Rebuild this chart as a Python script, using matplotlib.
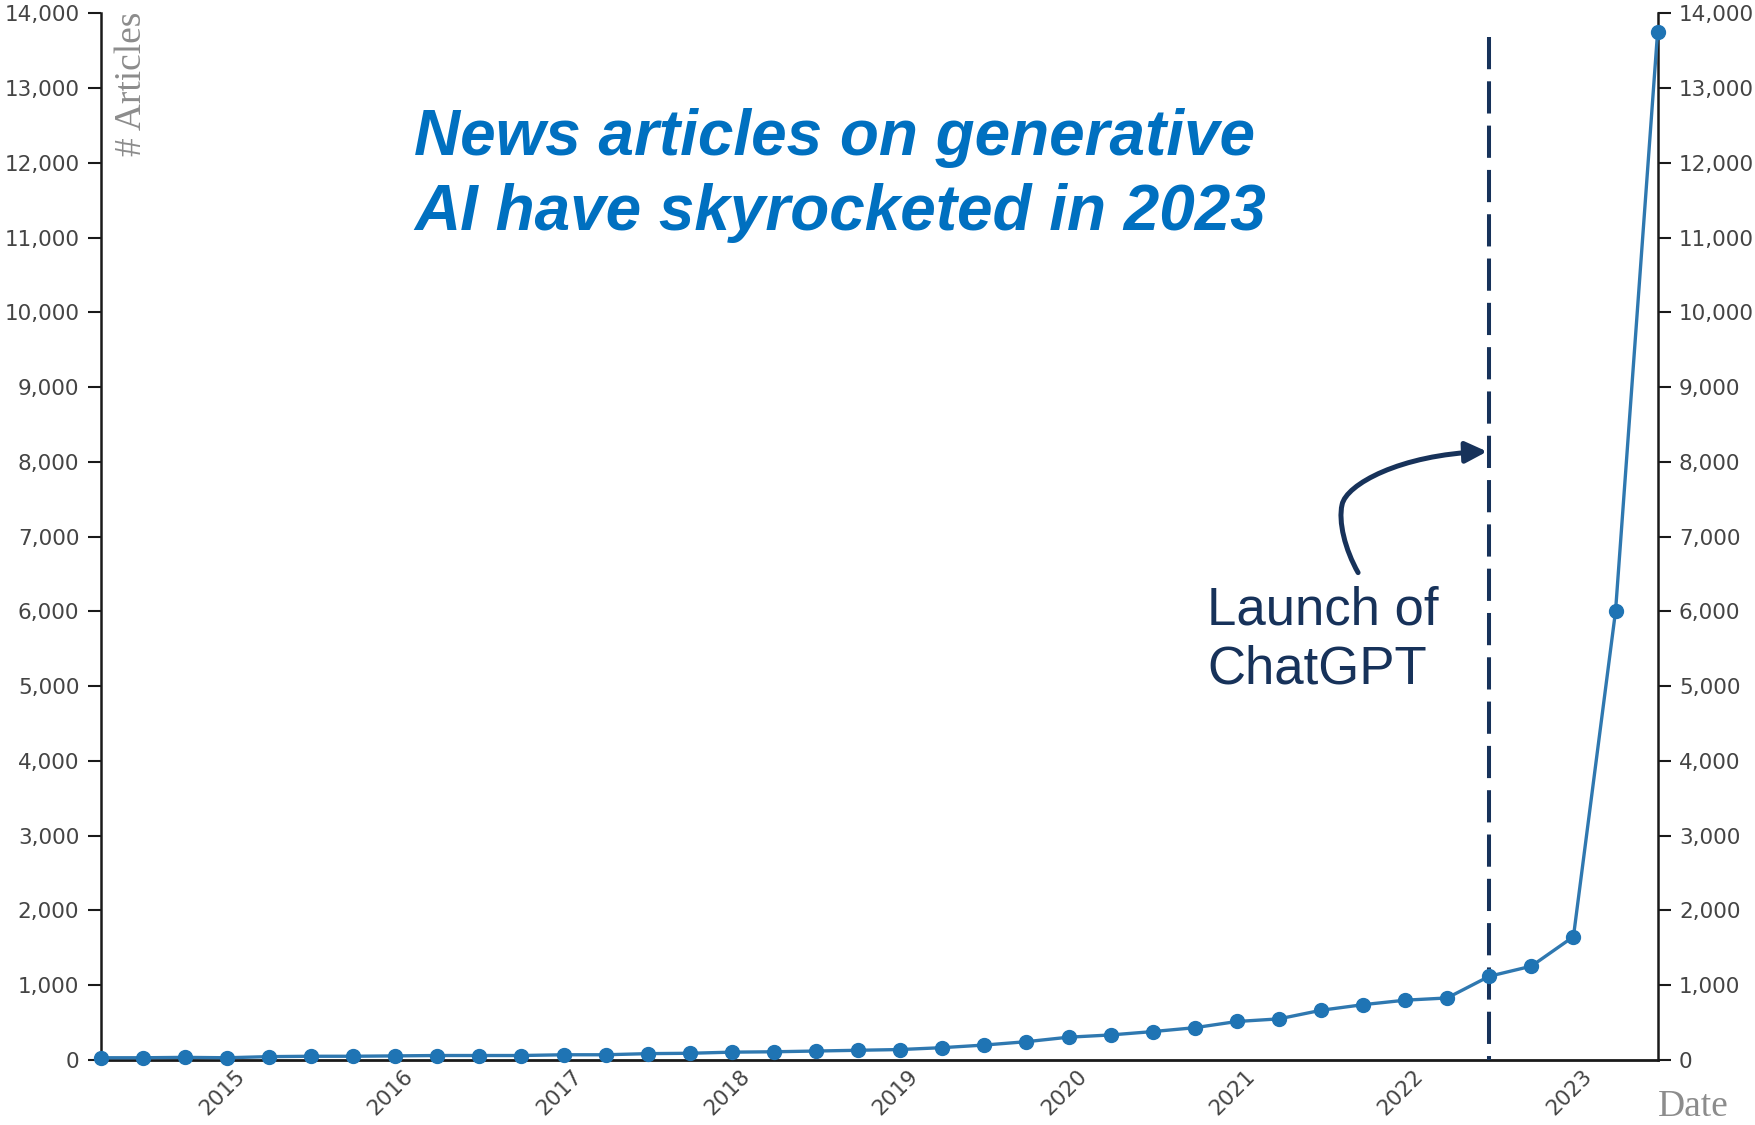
import matplotlib
matplotlib.use("Agg")
import matplotlib.pyplot as plt
import matplotlib.transforms as mtransforms
from matplotlib.path import Path
from matplotlib.patches import FancyArrowPatch
from matplotlib.ticker import FuncFormatter, MultipleLocator

# ---------------- data (quarterly article counts) ----------------
quarter_years = [2014.25 + 0.25 * i for i in range(38)]
articles = [30, 30, 35, 30, 45, 50, 50, 55, 60, 60, 60, 70,
            70, 85, 90, 105, 110, 120, 130, 140, 165, 200, 245, 305,
            335, 380, 432, 515, 550, 665, 740, 800, 830, 1120, 1255, 1650,
            6000, 13750]
year_ticks = [2015, 2016, 2017, 2018, 2019, 2020, 2021, 2022, 2023]
year_labels = [str(y) for y in year_ticks]
y_ticks = list(range(0, 14001, 1000))
launch_x = 2022.5          # where the "Launch of ChatGPT" marker is drawn
launch_top = 13680

title = "News articles on generative\nAI have skyrocketed in 2023"
launch_text = "Launch of\nChatGPT"

NAVY = "#17325a"
BLUE_T = "#0070c0"

fig = plt.figure(figsize=(17.55, 11.25), dpi=100)
ax = fig.add_axes([0.05738, 0.05778, 0.88712, 0.93031])

ax.plot(quarter_years, articles, color="#2f78b0", lw=2.4, marker="o",
        markersize=10, markerfacecolor="#1f74b4", markeredgecolor="#1f74b4",
        clip_on=False, zorder=5)

ax.set_xlim(quarter_years[0], quarter_years[-1])
ax.set_ylim(0, 14000)

# spines
ax.spines["top"].set_visible(False)
for s in ["left", "right", "bottom"]:
    ax.spines[s].set_color("#1a1a1a")
    ax.spines[s].set_linewidth(1.8)
ax.spines["bottom"].set_linewidth(2.0)

# y ticks both sides
ax.set_yticks(y_ticks)
ax.yaxis.set_major_formatter(FuncFormatter(lambda v, p: f"{v:,.0f}"))
ax.tick_params(axis="y", which="both", left=True, right=True,
               labelleft=True, labelright=True, direction="out",
               length=9.4, width=1.5, color="#1a1a1a", pad=6,
               labelsize=15.5, labelcolor="#444444")
for lab in ax.get_yticklabels():
    lab.set_family("DejaVu Sans")

# x ticks
ax.set_xticks(year_ticks)
ax.set_xticklabels(year_labels)
ax.tick_params(axis="x", length=0, pad=4, labelsize=15.5, labelcolor="#444444")
offset = mtransforms.ScaledTranslation(0.08, 0, fig.dpi_scale_trans)
for lab in ax.get_xticklabels():
    lab.set_rotation(45)
    lab.set_ha("right")
    lab.set_va("top")
    lab.set_rotation_mode("anchor")
    lab.set_family("DejaVu Sans")
    lab.set_transform(lab.get_transform() + offset)

# axis titles
fig.text(132 / 1755, 1 - 12 / 1125, "# Articles", rotation=90, ha="center",
         va="top", family="Liberation Serif", fontsize=27, color="#8c8c8c")
fig.text(1658 / 1755, 1 / 1125, "Date", ha="left", va="bottom",
         family="Liberation Serif", fontsize=27, color="#8c8c8c")

# title
fig.text(414 / 1755, 1 - 108 / 1125, title, ha="left", va="top",
         family="Liberation Sans", fontsize=46, fontweight="bold",
         fontstyle="italic", color=BLUE_T, linespacing=1.32)

# dashed launch line
ax.plot([launch_x, launch_x], [launch_top, 0], color=NAVY, lw=2.9,
        dashes=(8, 3), clip_on=False, zorder=4, dash_capstyle="butt")

# label text
ax.text(2020.823, 6345, launch_text, ha="left", va="top",
        family="Liberation Sans", fontsize=38, color=NAVY, linespacing=1.22)

# curved arrow (pixel guide -> data coords)
def px2d(px, py):
    return (2014.25 + (px - 100.7) / 168.3, (1060 - py) / 74.7 * 1000)

pts = [px2d(1358, 573), px2d(1345, 550), px2d(1338, 522), px2d(1342, 505),
       px2d(1346, 485), px2d(1400, 455), px2d(1487, 452)]
codes = [Path.MOVETO, Path.CURVE4, Path.CURVE4, Path.CURVE4,
         Path.CURVE4, Path.CURVE4, Path.CURVE4]
arrow = FancyArrowPatch(path=Path(pts, codes),
                        arrowstyle="-|>,head_length=0.65,head_width=0.32",
                        mutation_scale=20, color=NAVY, lw=3.6,
                        shrinkA=0, shrinkB=0, transform=ax.transData,
                        clip_on=False, zorder=6)
ax.add_patch(arrow)

fig.savefig("out.png", dpi=100)
